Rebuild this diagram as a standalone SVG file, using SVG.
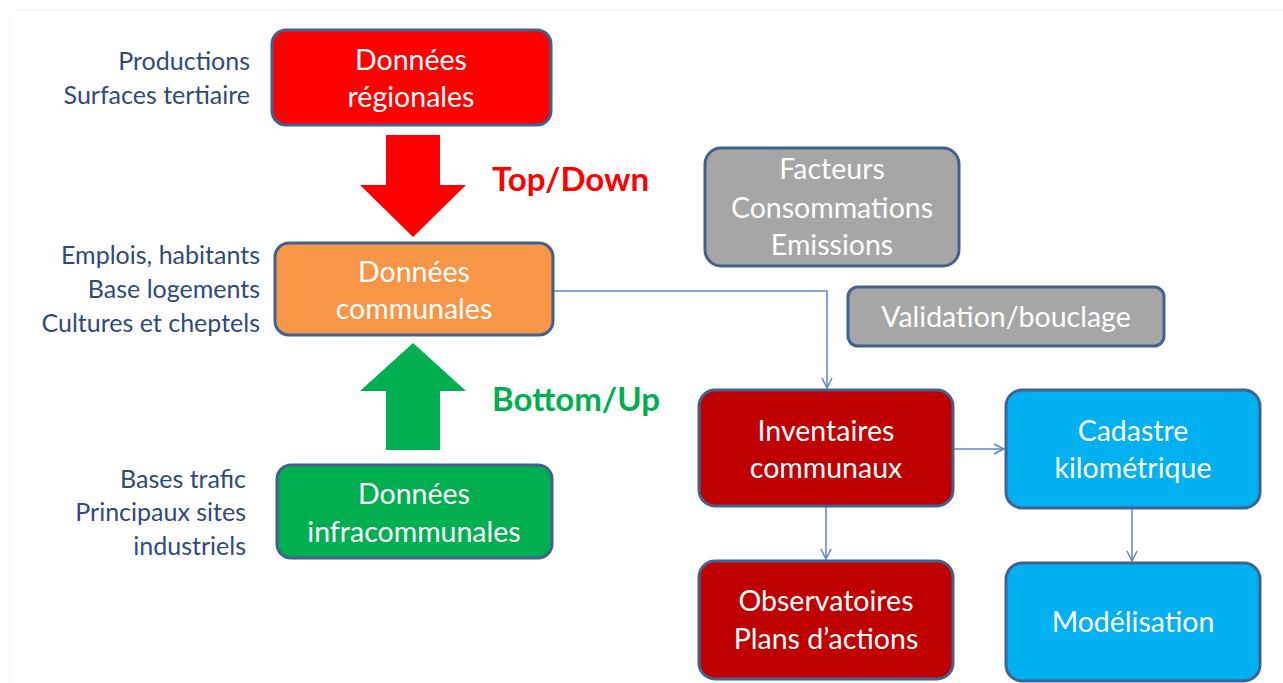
<svg xmlns="http://www.w3.org/2000/svg" width="1283" height="683" viewBox="0 0 1283 683">
<defs>
<style>
.box{stroke:#41618F;stroke-width:3}
.t{font-family:Lato,"Open Sans","Liberation Sans",sans-serif;font-size:28.5px;fill:#ffffff;text-anchor:middle}
.side{font-family:Lato,"Open Sans","Liberation Sans",sans-serif;font-size:25px;fill:#2E4A7D;text-anchor:end}
.big{font-family:Lato,"Open Sans","Liberation Sans",sans-serif;font-size:33px;font-weight:bold}
.conn{fill:none;stroke:#5B86C5;stroke-width:1.5}
</style>
<marker id="arr" viewBox="0 0 12 12" refX="11" refY="6" markerWidth="12" markerHeight="12" markerUnits="userSpaceOnUse" orient="auto">
<path d="M1,1 L11,6 L1,11" fill="none" stroke="#5B86C5" stroke-width="1.5"/>
</marker>
</defs>
<rect width="1283" height="683" fill="#ffffff"/>
<rect x="10" y="10" width="1300" height="700" fill="none" stroke="#f3f3f3" stroke-width="1"/>

<g id="connectors">
<polyline class="conn" points="553,291 827,291 827,388" marker-end="url(#arr)"/>
<line class="conn" x1="953" y1="449" x2="1004" y2="449" marker-end="url(#arr)"/>
<line class="conn" x1="826" y1="506" x2="826" y2="559" marker-end="url(#arr)"/>
<line class="conn" x1="1132" y1="508" x2="1132" y2="561" marker-end="url(#arr)"/>
</g>

<g id="arrow-topdown">
<polygon points="386,135 440,135 440,185 466,185 413,237 360,185 386,185" fill="#FF0000"/>
<text class="big" x="492" y="191" fill="#FF0000">Top/Down</text>
</g>
<g id="arrow-bottomup">
<polygon points="413,343 466,391 440,391 440,450 386,450 386,391 360,391" fill="#00B050"/>
<text class="big" x="492" y="411" fill="#00B050">Bottom/Up</text>
</g>

<g id="regionales">
<rect class="box" x="272" y="30" width="279" height="95" rx="14" fill="#FF0000"/>
<text class="t" x="411" y="70">Données</text>
<text class="t" x="411" y="107">régionales</text>
</g>
<g id="regionales-labels">
<text class="side" x="250" y="70">Productions</text>
<text class="side" x="250" y="104">Surfaces tertiaire</text>
</g>

<g id="communales">
<rect class="box" x="275" y="243" width="278" height="92" rx="14" fill="#F79646"/>
<text class="t" x="414" y="282">Données</text>
<text class="t" x="414" y="319">communales</text>
</g>
<g id="communales-labels">
<text class="side" x="260" y="264">Emplois, habitants</text>
<text class="side" x="260" y="298">Base logements</text>
<text class="side" x="260" y="332">Cultures et cheptels</text>
</g>

<g id="infracommunales">
<rect class="box" x="277" y="465" width="275" height="93" rx="14" fill="#00B050"/>
<text class="t" x="414" y="504">Données</text>
<text class="t" x="414" y="542">infracommunales</text>
</g>
<g id="infracommunales-labels">
<text class="side" x="246" y="488">Bases trafic</text>
<text class="side" x="246" y="521">Principaux sites</text>
<text class="side" x="246" y="555">industriels</text>
</g>

<g id="facteurs">
<rect class="box" x="705" y="148" width="254" height="118" rx="16" fill="#A6A6A6"/>
<text class="t" x="832" y="179">Facteurs</text>
<text class="t" x="832" y="218">Consommations</text>
<text class="t" x="832" y="255">Emissions</text>
</g>

<g id="validation">
<rect class="box" x="848" y="287" width="316" height="59" rx="10" fill="#A6A6A6"/>
<text class="t" x="1006" y="327">Validation/bouclage</text>
</g>

<g id="inventaires">
<rect class="box" x="699" y="390" width="254" height="116" rx="16" fill="#C00000"/>
<text class="t" x="826" y="441">Inventaires</text>
<text class="t" x="826" y="478">communaux</text>
</g>

<g id="cadastre">
<rect class="box" x="1006" y="390" width="254" height="118" rx="16" fill="#00B0F0"/>
<text class="t" x="1133" y="441">Cadastre</text>
<text class="t" x="1133" y="478">kilométrique</text>
</g>

<g id="observatoires">
<rect class="box" x="699" y="561" width="254" height="118" rx="16" fill="#C00000"/>
<text class="t" x="826" y="611">Observatoires</text>
<text class="t" x="826" y="649">Plans d’actions</text>
</g>

<g id="modelisation">
<rect class="box" x="1006" y="563" width="254" height="118" rx="16" fill="#00B0F0"/>
<text class="t" x="1133" y="632">Modélisation</text>
</g>
</svg>
